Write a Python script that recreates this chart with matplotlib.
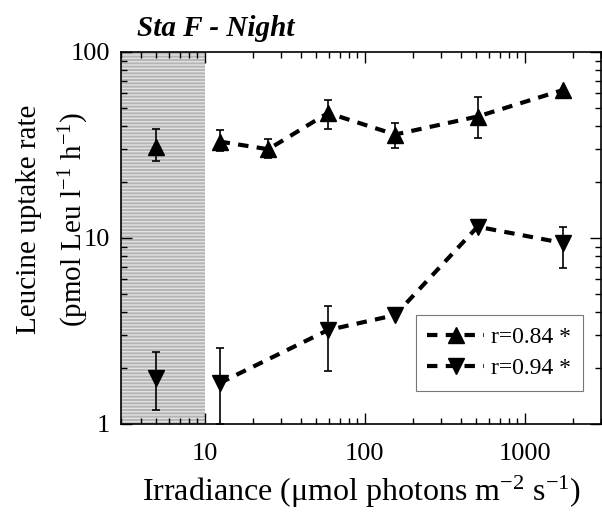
import numpy as np
import matplotlib
matplotlib.use("Agg")
import matplotlib.pyplot as plt

plt.rcParams['font.family'] = ['Liberation Serif', 'DejaVu Serif']
plt.rcParams['mathtext.fontset'] = 'custom'
plt.rcParams['mathtext.rm'] = 'Liberation Serif'
plt.rcParams['mathtext.it'] = 'Liberation Serif:italic'

# irradiance levels
x_up = [5, 12.4, 25, 59, 155, 508, 1740]
up = [31, 33, 30, 47, 36, 45, 62.5]
up_lo = [26, 29.4, 27, 38.6, 30.5, 34.4, 62.5]
up_hi = [38.5, 38, 34, 55, 41.5, 57, 62.5]

x_dn = [5, 12.4, 59, 155, 508, 1740]
dn = [1.77, 1.66, 3.2, 3.85, 11.5, 9.4]
dn_lo = [1.19, 1.0, 1.93, 3.85, 11.5, 6.9]
dn_hi = [2.44, 2.56, 4.3, 3.85, 11.5, 11.5]

dark_limit = 10
labels = ["r=0.84 *", "r=0.94 *"]

fig = plt.figure(figsize=(6.02, 5.15), dpi=100)
ax = fig.add_axes([121/602, 1-424/515, 480/602, 372/515])
ax.set_xscale('log')
ax.set_yscale('log')
ax.set_xlim(3, 3000)
ax.set_ylim(1, 100)

# dark region
ax.axvspan(3, dark_limit, facecolor='#b5b5b5', edgecolor='#e2e2e2', hatch='-----', lw=0, zorder=0)

for xs, ys, lo, hi, m in [(x_up, up, up_lo, up_hi, '^'), (x_dn, dn, dn_lo, dn_hi, 'v')]:
    xs = np.array(xs); ys = np.array(ys)
    yerr = [ys - np.array(lo), np.array(hi) - ys]
    ax.errorbar(xs, ys, yerr=yerr, fmt='none', ecolor='black', elinewidth=1.2, capsize=3, capthick=1.2, zorder=3)
    ax.plot(xs[1:], ys[1:], ls=(0, (2.5, 2)), lw=3, color='black', marker=m, ms=12, zorder=4)
    ax.plot(xs[:1], ys[:1], ls='none', color='black', marker=m, ms=12, zorder=4)

h1 = plt.Line2D([], [], ls=(0, (2.5, 2)), lw=3, color='black', marker='^', ms=12)
h2 = plt.Line2D([], [], ls=(0, (2.5, 2)), lw=3, color='black', marker='v', ms=12)
leg = ax.legend([h1, h2], labels, loc='lower right', bbox_to_anchor=(0.9625, 0.089), fontsize=17,
                fancybox=False, edgecolor='#777777', handlelength=2.4, handletextpad=0.3,
                borderpad=0.5, labelspacing=0.4, framealpha=1, borderaxespad=0)
leg.get_frame().set_linewidth(0.8)

ax.set_xticks([10, 100, 1000])
ax.set_xticklabels(['10', '100', '1000'])
ax.set_yticks([1, 10, 100])
ax.set_yticklabels(['1', '10', '100'])
ax.tick_params(which='both', direction='in', top=True, right=True, labelsize=19)
ax.tick_params(which='major', length=8, width=1)
ax.tick_params(which='minor', length=4, width=1)
ax.tick_params(axis='x', pad=14)
ax.tick_params(axis='y', pad=8)
for s in ax.spines.values():
    s.set_linewidth(1.2)

ax.set_xlabel(r'Irradiance ($\mathregular{\mu}$mol photons m$^{-2}$ s$^{-1}$)', fontsize=23, labelpad=6)
ax.set_ylabel('Leucine uptake rate\n(pmol Leu l$^{-1}$ h$^{-1}$)', fontsize=21, linespacing=1.6)
ax.yaxis.set_label_coords(-0.062, 0.551)
fig.text(137/602, 1-36/515, 'Sta F - Night', fontsize=21, fontweight='bold', fontstyle='italic')

fig.savefig('out.png', dpi=100)
